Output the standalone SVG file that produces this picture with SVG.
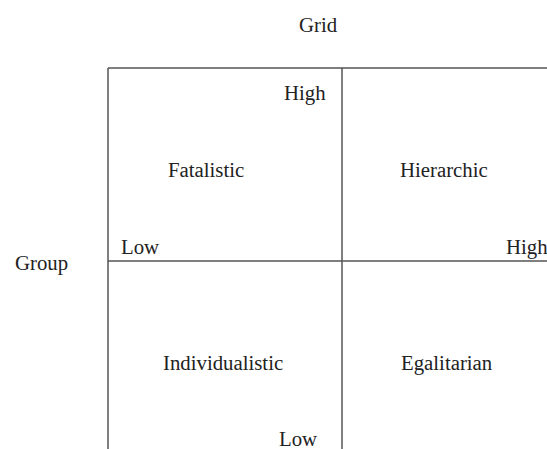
<svg xmlns="http://www.w3.org/2000/svg" width="547" height="449" viewBox="0 0 547 449">
<style>
text{font-family:'Liberation Serif','Times New Roman',Times,serif;font-size:20.8px;fill:#222}
.ln{stroke:#555;stroke-width:1.5;fill:none}
</style>
<rect width="547" height="449" fill="#fff"/>
<g id="connectors">
<line class="ln" x1="108" y1="68" x2="547" y2="68"/>
<line class="ln" x1="108" y1="68" x2="108" y2="449"/>
<line class="ln" x1="342" y1="68" x2="342" y2="449"/>
<line class="ln" x1="108" y1="261" x2="547" y2="261"/>
</g>
<g id="axis-grid"><text x="299" y="32">Grid</text></g>
<g id="axis-group"><text x="15" y="270">Group</text></g>
<g id="grid-high"><text x="284" y="100">High</text></g>
<g id="grid-low"><text x="279" y="446">Low</text></g>
<g id="group-low"><text x="121" y="254">Low</text></g>
<g id="group-high"><text x="506" y="254">High</text></g>
<g id="fatalistic"><text x="168" y="177">Fatalistic</text></g>
<g id="hierarchic"><text x="400" y="177">Hierarchic</text></g>
<g id="individualistic"><text x="163" y="370">Individualistic</text></g>
<g id="egalitarian"><text x="401" y="370">Egalitarian</text></g>
</svg>
